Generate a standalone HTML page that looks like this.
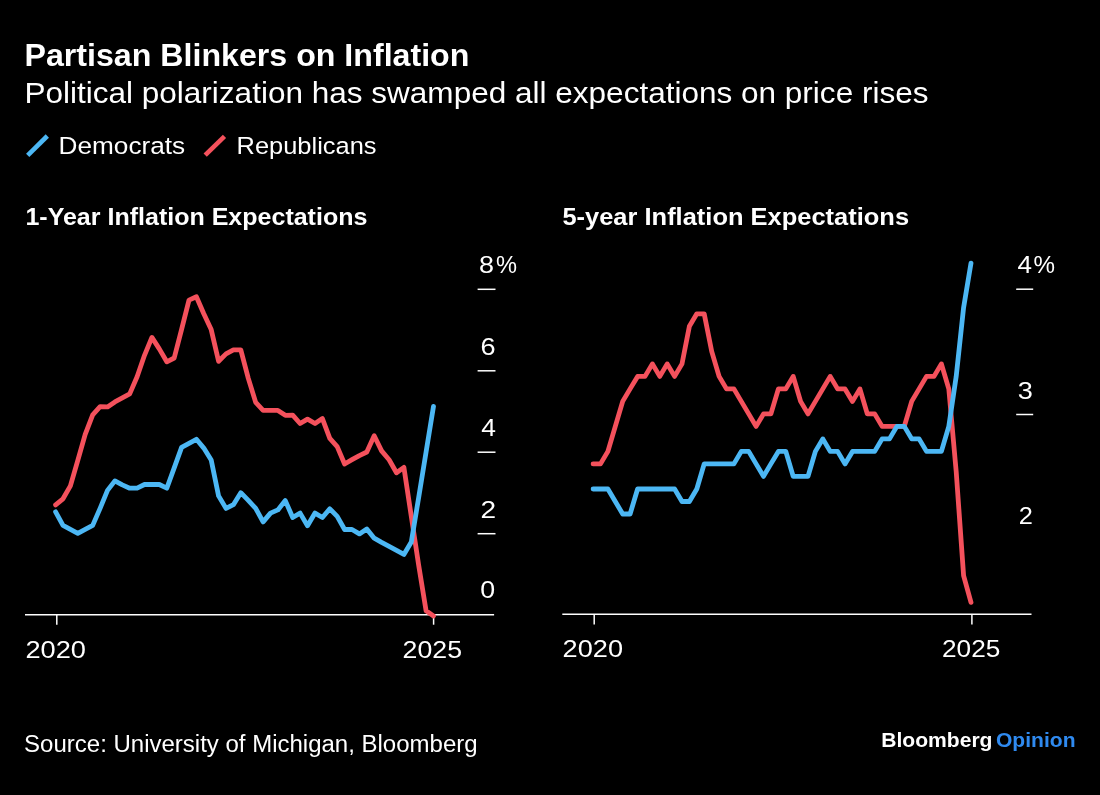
<!DOCTYPE html>
<html lang="en"><head><meta charset="utf-8"><title>Partisan Blinkers on Inflation</title>
<style>
html,body{margin:0;padding:0;background:#000;}
body{width:1100px;height:795px;overflow:hidden;}
svg{display:block;font-family:'Liberation Sans', Arial, sans-serif;will-change:transform;}
text{fill:#fff;} text.op{fill:#2f8af0;}
</style></head>
<body>
<svg width="1100" height="795" viewBox="0 0 1100 795">
<rect width="1100" height="795" fill="#000"/>
<text x="24.5" y="65.6" font-size="32" font-weight="700" textLength="444.9" lengthAdjust="spacingAndGlyphs">Partisan Blinkers on Inflation</text>
<text x="24.4" y="102.7" font-size="29.5" textLength="904.1" lengthAdjust="spacingAndGlyphs">Political polarization has swamped all expectations on price rises</text>
<line x1="27.7" y1="155.4" x2="47.3" y2="136" stroke="#4cb7f4" stroke-width="4.6"/>
<text x="58.6" y="154.2" font-size="24.5" textLength="126.5" lengthAdjust="spacingAndGlyphs">Democrats</text>
<line x1="205.2" y1="155.2" x2="224.5" y2="136.3" stroke="#f4515c" stroke-width="4.6"/>
<text x="236.6" y="154.2" font-size="24.5" textLength="139.9" lengthAdjust="spacingAndGlyphs">Republicans</text>
<text x="25.4" y="225.1" font-size="24.5" font-weight="700" textLength="342.0" lengthAdjust="spacingAndGlyphs">1-Year Inflation Expectations</text>
<text x="562.4" y="225.1" font-size="24.5" font-weight="700" textLength="346.7" lengthAdjust="spacingAndGlyphs">5-year Inflation Expectations</text>
<line x1="477.6" y1="289.3" x2="495.5" y2="289.3" stroke="#fff" stroke-width="1.5"/>
<line x1="477.6" y1="370.8" x2="495.5" y2="370.8" stroke="#fff" stroke-width="1.5"/>
<line x1="477.6" y1="452.2" x2="495.5" y2="452.2" stroke="#fff" stroke-width="1.5"/>
<line x1="477.6" y1="533.7" x2="495.5" y2="533.7" stroke="#fff" stroke-width="1.5"/>
<line x1="25" y1="614.8" x2="494.1" y2="614.8" stroke="#fff" stroke-width="1.6"/>
<line x1="56.8" y1="614.8" x2="56.8" y2="624.7" stroke="#fff" stroke-width="1.5"/>
<line x1="433.6" y1="614.8" x2="433.6" y2="624.7" stroke="#fff" stroke-width="1.5"/>
<text x="479.0" y="272.9" font-size="24" textLength="15.0" lengthAdjust="spacingAndGlyphs">8</text>
<text x="496.0" y="272.9" font-size="24" textLength="21.0" lengthAdjust="spacingAndGlyphs">%</text>
<text x="480.5" y="355.0" font-size="24" textLength="15.1" lengthAdjust="spacingAndGlyphs">6</text>
<text x="481.2" y="436.4" font-size="24" textLength="14.7" lengthAdjust="spacingAndGlyphs">4</text>
<text x="480.4" y="518.1" font-size="24" textLength="15.6" lengthAdjust="spacingAndGlyphs">2</text>
<text x="480.3" y="598.1" font-size="24" textLength="14.9" lengthAdjust="spacingAndGlyphs">0</text>
<text x="25.4" y="658.0" font-size="24" textLength="60.5" lengthAdjust="spacingAndGlyphs">2020</text>
<text x="402.6" y="657.9" font-size="24" textLength="59.4" lengthAdjust="spacingAndGlyphs">2025</text>
<polyline points="55.6,504.9 63.0,498.8 70.4,485.9 77.8,460.4 85.2,434.4 92.7,414.9 100.1,406.7 107.5,406.9 114.9,401.9 122.3,397.9 129.7,393.9 137.1,376.7 144.5,355.3 151.9,337.4 159.3,348.9 166.8,361.8 174.2,358.0 181.6,329.4 189.0,300.1 196.4,296.7 203.8,313.7 211.2,329.6 218.6,361.3 226.0,353.9 233.4,349.9 240.8,349.9 248.3,378.4 255.7,402.4 263.1,410.4 270.5,410.4 277.9,410.4 285.3,415.3 292.7,415.1 300.1,423.5 307.5,419.1 315.0,423.5 322.4,418.6 329.8,438.4 337.2,446.6 344.6,464.0 352.0,459.7 359.4,455.6 366.8,452.0 374.2,435.7 381.6,450.9 389.1,459.7 396.5,472.8 403.9,467.4 411.3,516.4 418.7,565.4 426.1,610.8 433.5,615.9" fill="none" stroke="#f4515c" stroke-width="4.8" stroke-linejoin="round" stroke-linecap="round"/>
<polyline points="55.6,511.8 63.0,525.4 70.4,529.4 77.8,533.3 85.2,529.4 92.7,525.4 100.1,508.4 107.5,490.4 114.9,480.9 122.3,484.9 129.7,488.2 137.1,488.2 144.5,484.5 151.9,484.5 159.3,484.5 166.8,488.2 174.2,467.9 181.6,447.4 189.0,443.4 196.4,439.3 203.8,448.1 211.2,460.0 218.6,495.9 226.0,508.4 233.4,504.7 240.8,492.7 248.3,500.4 255.7,508.4 263.1,521.9 270.5,513.1 277.9,509.9 285.3,500.6 292.7,517.5 300.1,513.1 307.5,525.7 315.0,513.1 322.4,517.5 329.8,508.8 337.2,516.4 344.6,529.5 352.0,529.5 359.4,533.9 366.8,528.9 374.2,538.2 381.6,542.4 389.1,546.4 396.5,550.4 403.9,554.4 411.3,542.1 418.7,497.3 426.1,451.9 433.5,406.4" fill="none" stroke="#4cb7f4" stroke-width="4.8" stroke-linejoin="round" stroke-linecap="round"/>
<line x1="1016.2" y1="289.2" x2="1033.2" y2="289.2" stroke="#fff" stroke-width="1.5"/>
<line x1="1016.2" y1="414.5" x2="1033.2" y2="414.5" stroke="#fff" stroke-width="1.5"/>
<line x1="562.3" y1="614.2" x2="1031.5" y2="614.2" stroke="#fff" stroke-width="1.6"/>
<line x1="594.2" y1="614.2" x2="594.2" y2="624.6" stroke="#fff" stroke-width="1.5"/>
<line x1="971.9" y1="614.2" x2="971.9" y2="624.6" stroke="#fff" stroke-width="1.5"/>
<text x="1017.5" y="273.2" font-size="24" textLength="14.5" lengthAdjust="spacingAndGlyphs">4</text>
<text x="1033.5" y="273.2" font-size="24" textLength="21.5" lengthAdjust="spacingAndGlyphs">%</text>
<text x="1017.7" y="398.8" font-size="24" textLength="15.1" lengthAdjust="spacingAndGlyphs">3</text>
<text x="1018.7" y="523.6" font-size="24" textLength="14.1" lengthAdjust="spacingAndGlyphs">2</text>
<text x="562.6" y="657.4" font-size="24" textLength="60.4" lengthAdjust="spacingAndGlyphs">2020</text>
<text x="942.0" y="656.7" font-size="24" textLength="58.3" lengthAdjust="spacingAndGlyphs">2025</text>
<polyline points="593.1,463.9 600.5,463.9 607.9,451.4 615.3,426.4 622.7,401.4 630.1,388.9 637.6,376.4 645.0,376.4 652.4,363.9 659.8,376.4 667.2,363.9 674.6,376.4 682.0,363.9 689.4,326.3 696.8,313.8 704.2,313.8 711.7,351.4 719.1,376.4 726.5,388.9 733.9,388.9 741.3,401.4 748.7,413.9 756.1,426.4 763.5,413.9 770.9,413.9 778.4,388.9 785.8,388.9 793.2,376.4 800.6,401.4 808.0,413.9 815.4,401.4 822.8,388.9 830.2,376.4 837.6,388.9 845.0,388.9 852.5,401.4 859.9,388.9 867.3,413.9 874.7,413.9 882.1,426.4 889.5,426.4 896.9,426.4 904.3,426.4 911.7,401.4 919.1,388.9 926.5,376.4 934.0,376.4 941.4,363.9 948.8,388.9 956.2,471.6 963.6,575.6 971.0,602.4" fill="none" stroke="#f4515c" stroke-width="4.8" stroke-linejoin="round" stroke-linecap="round"/>
<polyline points="593.1,489.0 600.5,489.0 607.9,489.0 615.3,501.5 622.7,514.0 630.1,514.0 637.6,489.0 645.0,489.0 652.4,489.0 659.8,489.0 667.2,489.0 674.6,489.0 682.0,501.5 689.4,501.5 696.8,489.0 704.2,463.9 711.7,463.9 719.1,463.9 726.5,463.9 733.9,463.9 741.3,451.4 748.7,451.4 756.1,463.9 763.5,476.4 770.9,463.9 778.4,451.4 785.8,451.4 793.2,476.4 800.6,476.4 808.0,476.4 815.4,451.4 822.8,438.9 830.2,451.4 837.6,451.4 845.0,463.9 852.5,451.4 859.9,451.4 867.3,451.4 874.7,451.4 882.1,438.9 889.5,438.9 896.9,426.4 904.3,426.4 911.7,438.9 919.1,438.9 926.5,451.4 934.0,451.4 941.4,451.4 948.8,426.4 956.2,376.4 963.6,307.6 971.0,263.1" fill="none" stroke="#4cb7f4" stroke-width="4.8" stroke-linejoin="round" stroke-linecap="round"/>
<text x="24.1" y="751.8" font-size="23.5" textLength="453.5" lengthAdjust="spacingAndGlyphs">Source: University of Michigan, Bloomberg</text>
<text x="881.2" y="747.4" font-size="20.6" font-weight="700" textLength="111.3" lengthAdjust="spacingAndGlyphs">Bloomberg</text>
<text x="996.0" y="747.4" font-size="20.6" font-weight="700" class="op" textLength="79.5" lengthAdjust="spacingAndGlyphs">Opinion</text>
</svg>
</body></html>
